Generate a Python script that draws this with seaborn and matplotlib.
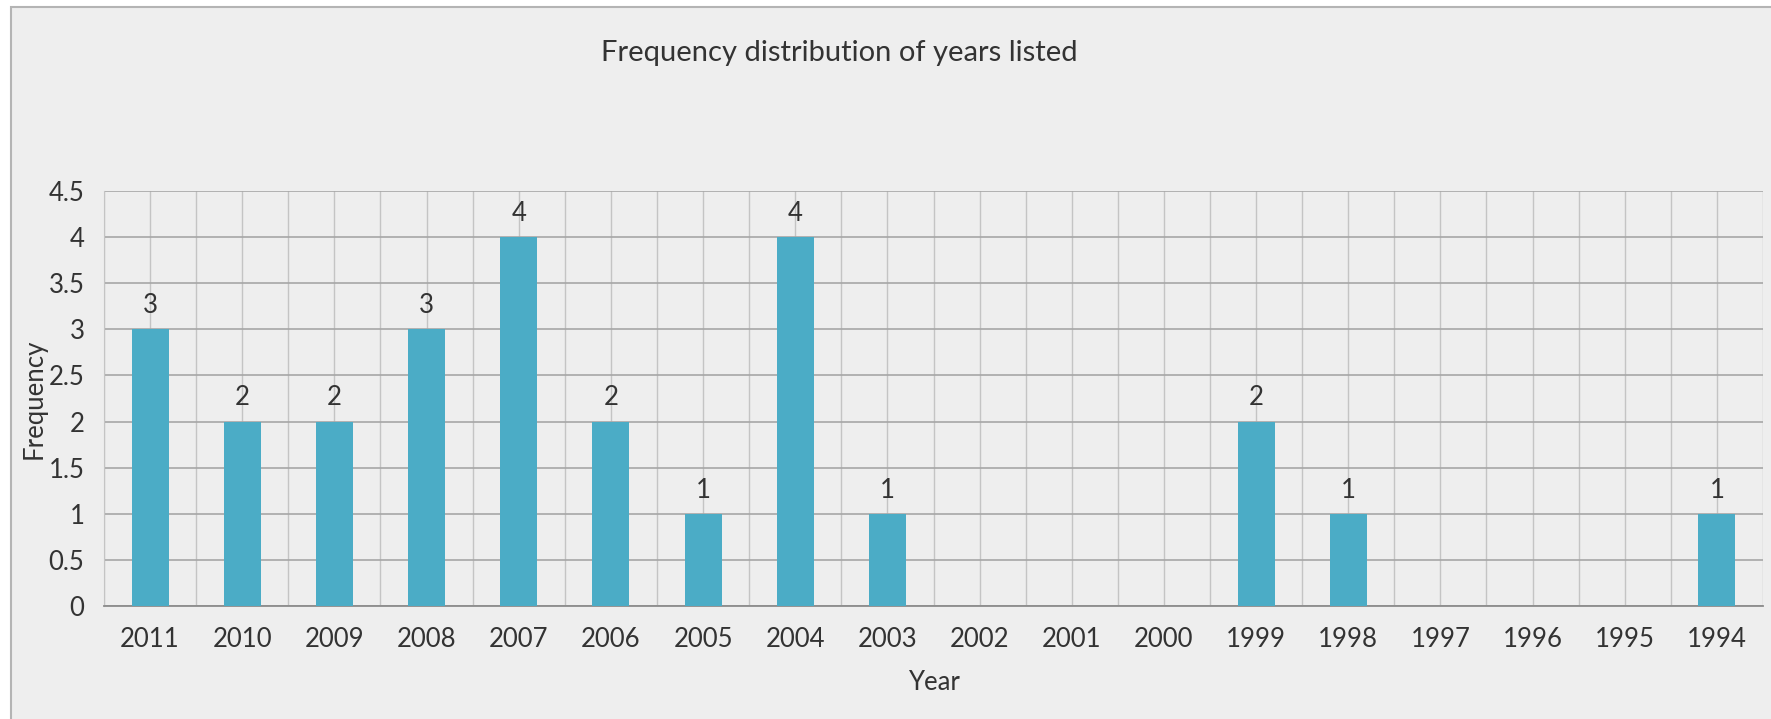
import pandas as pd
import seaborn as sns
import matplotlib
import matplotlib.pyplot as plt
from matplotlib.patches import Rectangle
from matplotlib.ticker import MultipleLocator, FixedLocator

matplotlib.use("Agg")

# Data
years = ["2011", "2010", "2009", "2008", "2007", "2006", "2005", "2004", "2003",
         "2002", "2001", "2000", "1999", "1998", "1997", "1996", "1995", "1994"]
frequency = [3, 2, 2, 3, 4, 2, 1, 4, 1, 0, 0, 0, 2, 1, 0, 0, 0, 1]

BG = "#eeeeee"
BAR = "#4bacc6"
TEXT = "#333333"

sns.set_style("white")
plt.rcParams["font.family"] = ["Lato", "DejaVu Sans"]

df = pd.DataFrame({"Year": years, "Frequency": frequency})

fig = plt.figure(figsize=(17.71, 7.19), dpi=100, facecolor="white")
# outer chart area with grey border (white strip top/left like the source)
fig.patches.append(Rectangle((11 / 1771, -0.01), 1.02, 1 - 7 / 719 + 0.01,
                             transform=fig.transFigure, facecolor=BG,
                             edgecolor="#b4b4b4", linewidth=1.5, zorder=-10))

ax = fig.add_axes([104 / 1771, 1 - 606 / 719, (1763 - 104) / 1771, (606 - 191) / 719])
ax.set_facecolor(BG)

sns.barplot(data=df, x="Year", y="Frequency", order=years, color=BAR,
            width=0.4, saturation=1, linewidth=0, ax=ax, zorder=3)

ax.set_xlim(-0.5, len(years) - 0.5)
ax.set_ylim(0, 4.5)
ax.yaxis.set_major_locator(MultipleLocator(0.5))
ax.set_yticklabels([f"{v:g}" for v in ax.get_yticks()])
ax.xaxis.set_minor_locator(FixedLocator([i - 0.5 for i in range(len(years) + 1)]))

# gridlines: horizontal darker, vertical lighter at centres and boundaries
ax.grid(axis="y", which="major", color="#a6a6a6", linewidth=1.2, zorder=0)
ax.grid(axis="x", which="both", color="#c4c4c4", linewidth=1.0, zorder=0)
ax.set_axisbelow(True)

for s in ["top", "right"]:
    ax.spines[s].set_visible(False)
ax.spines["left"].set_color("#c4c4c4")
ax.spines["bottom"].set_color("#8c8c8c")
ax.spines["bottom"].set_linewidth(1.3)

ax.tick_params(axis="x", which="major", length=0, pad=15, labelsize=18.5, labelcolor=TEXT)
ax.tick_params(axis="x", which="minor", length=8, color="#8c8c8c", width=1.2)
ax.tick_params(axis="y", which="major", length=7, color="#a6a6a6", width=1.2,
               pad=7, labelsize=18.5, labelcolor=TEXT)

labels = [str(v) if v > 0 else "" for v in frequency]
ax.bar_label(ax.containers[0], labels=labels, padding=8, fontsize=18.5, color=TEXT)

ax.set_xlabel("Year", fontsize=18.5, color=TEXT)
ax.xaxis.set_label_coords(0.5, -(683 - 606) / (606 - 191), transform=ax.transAxes)
ax.xaxis.label.set_va("center")
ax.set_ylabel("Frequency", fontsize=18.5, color=TEXT)
ax.yaxis.set_label_coords(-(104 - 34) / (1763 - 104), 0.5)
ax.yaxis.label.set_va("center")
fig.text(839 / 1771, 1 - 53 / 719, "Frequency distribution of years listed",
         ha="center", va="center", fontsize=21, color=TEXT)

fig.savefig("out.png", dpi=100, facecolor=fig.get_facecolor())
